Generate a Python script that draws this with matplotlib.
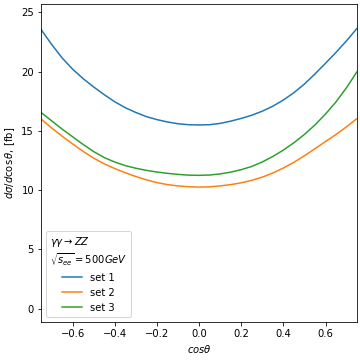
import matplotlib
matplotlib.use('Agg')
import matplotlib.pyplot as plt
import numpy as np

# cos(theta) grid and cross sections
cos_theta = [-0.75, -0.70, -0.65, -0.60, -0.55, -0.50, -0.45, -0.40, -0.35, -0.30,
             -0.25, -0.20, -0.15, -0.10, -0.05, 0.00, 0.05, 0.10, 0.15, 0.20,
             0.25, 0.30, 0.35, 0.40, 0.45, 0.50, 0.55, 0.60, 0.65, 0.70, 0.75]

set1 = [23.55, 22.3, 21.15, 20.2, 19.4, 18.7, 18.05, 17.45, 16.95, 16.55,
        16.2, 15.95, 15.75, 15.6, 15.52, 15.5, 15.52, 15.63, 15.82, 16.05,
        16.32, 16.66, 17.08, 17.6, 18.22, 18.95, 19.8, 20.7, 21.62, 22.6, 23.65]

set2 = [16.0, 15.25, 14.55, 13.9, 13.27, 12.7, 12.22, 11.82, 11.47, 11.15,
        10.87, 10.64, 10.47, 10.36, 10.29, 10.26, 10.28, 10.36, 10.47, 10.62,
        10.83, 11.1, 11.45, 11.87, 12.35, 12.9, 13.5, 14.1, 14.7, 15.35, 16.05]

set3 = [16.55, 15.85, 15.15, 14.5, 13.85, 13.25, 12.75, 12.37, 12.07, 11.85,
        11.67, 11.53, 11.42, 11.33, 11.27, 11.25, 11.28, 11.37, 11.52, 11.73,
        12.0, 12.38, 12.84, 13.38, 14.0, 14.7, 15.5, 16.42, 17.45, 18.65, 20.0]

labels = ['set 1', 'set 2', 'set 3']

fig = plt.figure(figsize=(5, 5), dpi=72)
ax = fig.add_axes([0.114, 0.106, 0.878, 0.883])

for ys, lab in zip([set1, set2, set3], labels):
    ax.plot(cos_theta, ys, label=lab)

ax.set_xlim(-0.75, 0.75)
ax.set_ylim(-1.1, 25.7)
ax.set_xlabel(r'$cos\theta$')
ax.set_ylabel(r'$d\sigma/d\cos\theta$, [fb]')

ax.legend(title='$\\gamma\\gamma \\to ZZ$\n$\\sqrt{s_{ee}} = 500 GeV$',
          loc='lower left')

fig.savefig('out.png', dpi=72)
